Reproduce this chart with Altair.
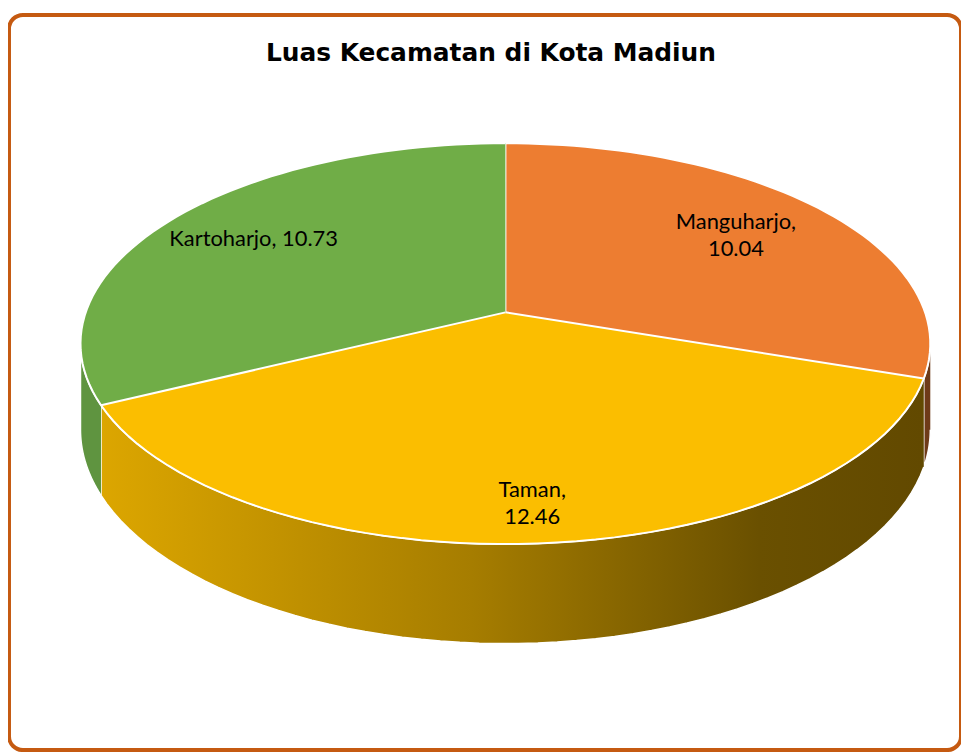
import altair as alt
import pandas as pd

# ---- data ----
kecamatan = ["Manguharjo", "Taman", "Kartoharjo"]
luas = [10.04, 12.46, 10.73]
urutan = [0, 1, 2]
warna_atas = ["#ED7D31", "#FBBE00", "#70AD47"]
judul = "Luas Kecamatan di Kota Madiun"

df = pd.DataFrame({"kec": kecamatan, "luas": luas, "urut": urutan})

# ---- layout / projection constants (view pixels) ----
W, H = 957, 739
CX, CY = 499, 299          # centre of the pie top
A, B, D, T = 1258, 2700, 6.4, 540   # perspective factors, wall depth
LH = 27                    # label line height

xs = alt.Scale(domain=[0, W], nice=False, zero=False)
ys = alt.Scale(domain=[0, H], nice=False, zero=False, reverse=True)

base = (
    alt.Chart(df)
    .transform_joinaggregate(total="sum(luas)")
    .transform_window(cum="sum(luas)", sort=[alt.SortField("urut")], frame=[None, 0])
    .transform_calculate(
        a1="2*PI*(datum.cum - datum.luas)/datum.total",
        a2="2*PI*datum.cum/datum.total",
    )
)

def px_expr(phi, r="1"):
    return f"{CX} + {B}*({r})*sin({phi})/({D}+({r})*cos({phi}))"

def py_expr(phi, r="1"):
    return f"{CY} - {A}*({r})*cos({phi})/({D}+({r})*cos({phi}))"

enc = dict(
    x=alt.X("px:Q", scale=xs, axis=None),
    y=alt.Y("py:Q", scale=ys, axis=None),
    order=alt.Order("k:Q"),
    detail="kec:N",
)

# ---- top faces ----
top = (
    base.transform_calculate(k="sequence(0, 62)")
    .transform_flatten(["k"])
    .transform_calculate(phi="datum.a1 + (datum.a2-datum.a1)*max(datum.k-1,0)/60")
    .transform_calculate(
        px=f"datum.k == 0 ? {CX} : " + px_expr("datum.phi"),
        py=f"datum.k == 0 ? {CY} : " + py_expr("datum.phi"),
    )
    .mark_line(filled=True, stroke="white", strokeWidth=2, strokeJoin="round")
    .encode(
        color=alt.Color("kec:N", scale=alt.Scale(domain=kecamatan, range=warna_atas), legend=None),
        **enc,
    )
)

# ---- side walls ----
lo = f"acos(-1/{D})"
wall_base = (
    base.transform_calculate(s=f"max(datum.a1, {lo})", e=f"min(datum.a2, 2*PI-{lo})")
    .transform_filter("datum.e > datum.s")
    .transform_calculate(k="sequence(0, 122)")
    .transform_flatten(["k"])
    .transform_calculate(
        phi="datum.k <= 60 ? datum.s + (datum.e-datum.s)*datum.k/60 : datum.e - (datum.e-datum.s)*(datum.k-61)/60"
    )
    .transform_calculate(
        px=px_expr("datum.phi"),
        py=py_expr("datum.phi") + f" + (datum.k > 60 ? {T}/({D}+cos(datum.phi)) : 0)",
    )
)

grad_taman = alt.LinearGradient(
    gradient="linear",
    stops=[
        alt.GradientStop(offset=0, color="#DCA600"),
        alt.GradientStop(offset=0.45, color="#A67D00"),
        alt.GradientStop(offset=0.8, color="#6A5000"),
        alt.GradientStop(offset=1, color="#624900"),
    ],
    x1=0, x2=1, y1=0, y2=0,
)
wall_fill = {"Manguharjo": "#6E3A18", "Taman": grad_taman, "Kartoharjo": "#5F9440"}

walls = [
    wall_base.transform_filter(f"datum.kec == '{k}'")
    .mark_line(fill=f, stroke="white", strokeWidth=1.5, strokeJoin="round")
    .encode(**enc)
    for k, f in wall_fill.items()
]

# ---- labels ----
labels = (
    base.transform_calculate(
        mid="(datum.a1+datum.a2)/2",
        r="datum.kec == 'Taman' ? 0.85 : (datum.kec == 'Kartoharjo' ? 0.75 : 0.72)",
        satu="datum.kec == 'Kartoharjo'",
    )
    .transform_calculate(
        px=px_expr("datum.mid", "datum.r"),
        py=py_expr("datum.mid", "datum.r") + f" - (datum.satu ? 0 : {LH}/2)",
        teks="datum.satu ? datum.kec + ', ' + format(datum.luas, '.2f') : datum.kec + ',\\n' + format(datum.luas, '.2f')",
    )
    .mark_text(font="Lato", fontSize=22, lineBreak="\n", lineHeight=LH, color="black", baseline="middle", align="center")
    .encode(
        x=alt.X("px:Q", scale=xs, axis=None),
        y=alt.Y("py:Q", scale=ys, axis=None),
        text="teks:N",
    )
)

chart = (
    alt.layer(*walls, top, labels)
    .properties(
        width=W,
        height=H,
        autosize=alt.AutoSizeParams(type="none"),
        padding={"left": 1, "top": 5, "right": 0, "bottom": 0},
        background="white",
        title=alt.TitleParams(
            judul, font="DejaVu Sans", fontSize=25, fontWeight="bold", color="black",
            anchor="middle", offset=-71, baseline="alphabetic", dx=6,
        ),
    )
    .configure_view(stroke="#C55A11", strokeWidth=4, cornerRadius=14)
)

chart.save("out.html", embed_options={"renderer": "svg", "actions": False})
